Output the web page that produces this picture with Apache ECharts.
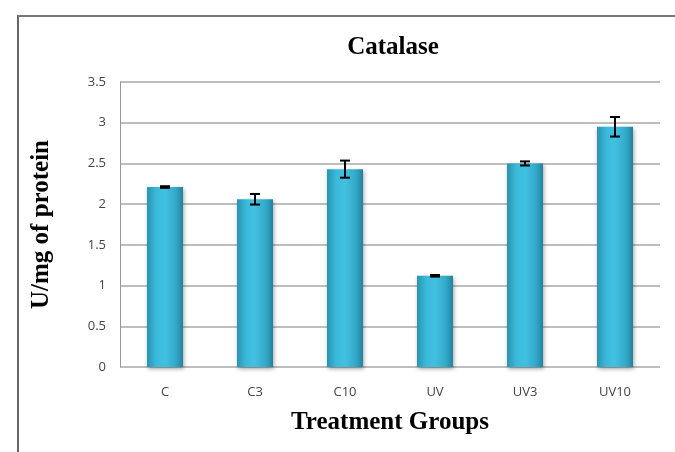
<!DOCTYPE html>
<html>
<head>
<meta charset="utf-8">
<script src="https://cdn.jsdelivr.net/npm/echarts@6/dist/echarts.min.js"></script>
<style>
  html, body { margin: 0; padding: 0; background: #fff; }
  #frame { position: absolute; left: 17px; top: 15px; width: 700px; height: 460px;
           border-left: 2px solid #666; border-top: 2px solid #777; }
  #chart { position: absolute; left: 0; top: 0; width: 675px; height: 452px; }
</style>
</head>
<body>
<div id="frame"></div>
<div id="chart"></div>
<script>
const groups = ["C", "C3", "C10", "UV", "UV3", "UV10"];
const catalase = [2.21, 2.06, 2.43, 1.12, 2.5, 2.95];
const errors = [0.01, 0.065, 0.105, 0.01, 0.025, 0.12];
const yTicks = [0, 0.5, 1, 1.5, 2, 2.5, 3, 3.5];

const chart = echarts.init(document.getElementById("chart"));

const serif = "'Liberation Serif', 'DejaVu Serif', serif";
const barColor = new echarts.graphic.LinearGradient(0, 0, 1, 0, [
  { offset: 0, color: "#2a93b0" },
  { offset: 0.25, color: "#3ab9da" },
  { offset: 0.5, color: "#42c0e0" },
  { offset: 0.8, color: "#33a9c9" },
  { offset: 1, color: "#23829e" },
]);

chart.setOption({
  animation: false,
  title: {
    text: "Catalase",
    left: 388,
    top: 30,
    textAlign: "center",
    textStyle: { fontFamily: serif, fontSize: 25, fontWeight: "bold", color: "#000" },
  },
  grid: { left: 120, right: 15, top: 82, bottom: 85 },
  xAxis: {
    type: "category",
    data: groups,
    name: "Treatment Groups",
    nameLocation: "middle",
    nameGap: 43,
    nameTextStyle: { fontFamily: serif, fontSize: 25, fontWeight: "bold", color: "#000" },
    axisLine: { show: false },
    axisTick: { show: false },
    axisLabel: { margin: 19, fontFamily: "'Open Sans', sans-serif", fontSize: 13, color: "#444" },
  },
  yAxis: {
    type: "value",
    min: 0,
    max: 3.5,
    interval: 0.5,
    name: "U/mg of protein",
    nameLocation: "middle",
    nameGap: 66,
    nameTextStyle: { fontFamily: serif, fontSize: 25, fontWeight: "bold", color: "#000" },
    axisLine: { show: true, lineStyle: { color: "#999", width: 1 } },
    axisTick: { show: false },
    axisLabel: {
      margin: 14,
      fontFamily: "'Open Sans', sans-serif",
      fontSize: 13,
      color: "#444",
      formatter: (v) => (yTicks.includes(v) ? String(v) : ""),
    },
    splitLine: { lineStyle: { color: "#a8a8a8", width: 1.5 } },
  },
  series: [
    {
      type: "bar",
      data: catalase,
      barWidth: 36,
      itemStyle: {
        color: barColor,
        shadowBlur: 4,
        shadowColor: "rgba(0,0,0,0.35)",
        shadowOffsetX: 1,
        shadowOffsetY: 2,
      },
    },
    {
      type: "custom",
      data: catalase.map((v, i) => [i, v - errors[i], v + errors[i]]),
      z: 10,
      renderItem: (params, api) => {
        const x = api.value(0);
        const lo = api.coord([x, api.value(1)]);
        const hi = api.coord([x, api.value(2)]);
        const hw = 5;
        const style = { stroke: "#000", lineWidth: 2 };
        return {
          type: "group",
          children: [
            { type: "line", shape: { x1: lo[0], y1: lo[1], x2: hi[0], y2: hi[1] }, style },
            { type: "line", shape: { x1: lo[0] - hw, y1: lo[1], x2: lo[0] + hw, y2: lo[1] }, style },
            { type: "line", shape: { x1: hi[0] - hw, y1: hi[1], x2: hi[0] + hw, y2: hi[1] }, style },
          ],
        };
      },
    },
  ],
});
</script>
</body>
</html>
